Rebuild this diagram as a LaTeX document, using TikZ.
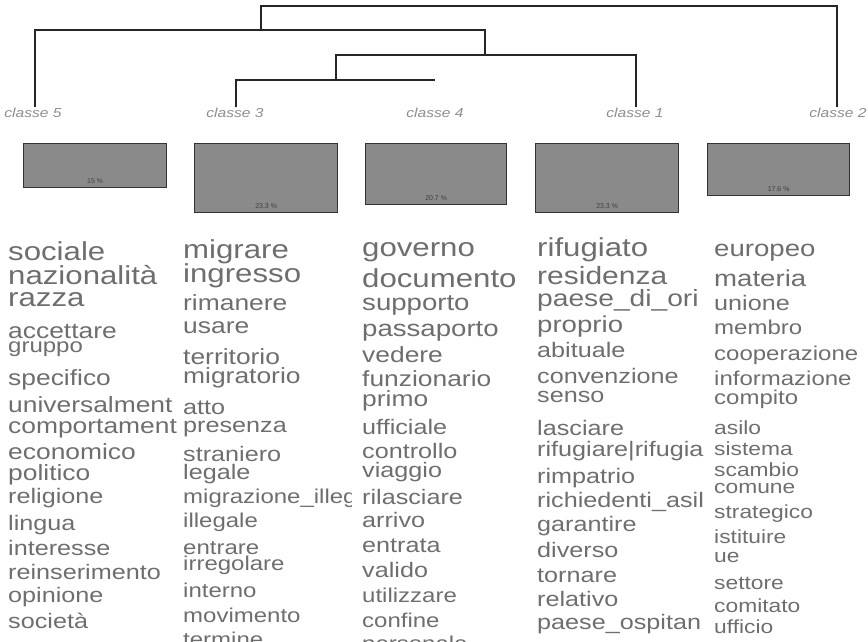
\documentclass[tikz,border=0pt]{standalone}
\usepackage{fontspec}
\setmainfont{Liberation Sans}
\newfontfamily\wordfont[FakeStretch=1.2]{Liberation Sans}
\definecolor{wordgray}{HTML}{6E6E6E}
\definecolor{labelgray}{HTML}{8E8E8E}
\definecolor{barfill}{HTML}{8A8A8A}
\tikzset{
  word/.style={anchor=base west, inner sep=0pt, text=wordgray},
  classlabel/.style={anchor=base, inner sep=0pt, text=labelgray, font=\wordfont\itshape\fontsize{13}{13}\selectfont},
  bar/.style={draw=black!80, fill=barfill, line width=1.3pt, anchor=north west, inner sep=0pt},
  pct/.style={anchor=base, inner sep=0pt, text=black!75, font=\fontsize{7}{7}\selectfont},
  tree/.style={draw=black!85, line width=1.3pt}
}

\begin{document}
\begin{tikzpicture}[x=1pt,y=-1pt]
\useasboundingbox (0,0) rectangle (868,641);

\coordinate (n5) at (35,107);
\coordinate (n3) at (236,107);
\coordinate (n4) at (435,80);
\coordinate (n1) at (636,107);
\coordinate (n2) at (837,107);
\coordinate (m34) at (336,80);
\coordinate (m341) at (485,55);
\coordinate (m5341) at (261,30);
\coordinate (root) at (549,6);

\draw[tree] (n3) |- (n4);
\draw[tree] (m34) |- (n1 |- m341) -- (n1);
\draw[tree] (m341) |- (n5 |- m5341) -- (n5);
\draw[tree] (m5341) |- (n2 |- root) -- (n2);

\node[classlabel] (k5) at (33,117) {classe 5};
\node[classlabel] (k3) at (235,117) {classe 3};
\node[classlabel] (k4) at (435,117) {classe 4};
\node[classlabel] (k1) at (635,117) {classe 1};
\node[classlabel] (k2) at (838,117) {classe 2};

\node[bar, minimum width=143, minimum height=44] (b5) at (23,143) {};
\node[bar, minimum width=143, minimum height=69] (b3) at (194,143) {};
\node[bar, minimum width=141, minimum height=61] (b4) at (365,143) {};
\node[bar, minimum width=143, minimum height=69] (b1) at (535,143) {};
\node[bar, minimum width=142, minimum height=52] (b2) at (707,143) {};
\path (b5.south) ++(0,-5) node[pct] {15 \%};
\path (b3.south) ++(0,-5) node[pct] {23.3 \%};
\path (b4.south) ++(0,-5) node[pct] {20.7 \%};
\path (b1.south) ++(0,-5) node[pct] {23.3 \%};
\path (b2.south) ++(0,-5) node[pct] {17.6 \%};

\begin{scope}
\clip (0,220) rectangle (178,641);
\foreach \y/\s/\w [count=\i] in {260/26/sociale, 284/26/nazionalità, 306/26/razza,
  338/22/accettare, 352/20/gruppo, 385/22/specifico, 412/22/universalment,
  433/22/comportament, 459/22/economico, 480/22/politico, 503/21/religione,
  530/21/lingua, 555/21/interesse, 579/21/reinserimento, 602/21/opinione, 628/21/società}
  \node[word, font=\wordfont\fontsize{\s}{\s}\selectfont] (c5w\i) at (8,\y) {\w};
\end{scope}

\begin{scope}
\clip (180,220) rectangle (351,641);
\foreach \y/\s/\w [count=\i] in {258/26/migrare, 282/26/ingresso, 310/22/rimanere,
  333/22/usare, 364/22/territorio, 383/22/migratorio, 414/21/atto, 432/21/presenza,
  461/21/straniero, 479/21/legale, 503/20/migrazione\_illeg, 527/20/illegale,
  554/20/entrare, 570/20/irregolare, 597/20/interno, 622/20/movimento, 646/20/termine}
  \node[word, font=\wordfont\fontsize{\s}{\s}\selectfont] (c3w\i) at (183,\y) {\w};
\end{scope}

\begin{scope}
\clip (355,220) rectangle (534,641);
\foreach \y/\s/\w [count=\i] in {256/26/governo, 287/26/documento, 310/23/supporto,
  336/23/passaporto, 362/22/vedere, 386/22/funzionario, 406/22/primo,
  434/21/ufficiale, 458/21/controllo, 477/21/viaggio, 504/21/rilasciare,
  527/21/arrivo, 552/21/entrata, 577/21/valido, 602/20/utilizzare,
  627/20/confine, 650/20/personale}
  \node[word, font=\wordfont\fontsize{\s}{\s}\selectfont] (c4w\i) at (362,\y) {\w};
\end{scope}

\begin{scope}
\clip (534,220) rectangle (707,641);
\foreach \y/\s/\w [count=\i] in {256/26/rifugiato, 284/25/residenza, 306/23.5/paese\_di\_ori,
  332/23/proprio, 357/21/abituale, 383/21/convenzione, 402/21/senso,
  435/21/lasciare, 456/21/rifugiare|rifugia, 483/21/rimpatrio,
  507/21/richiedenti\_asil, 531/21/garantire, 557/21/diverso, 582/21/tornare,
  606/21/relativo, 629/21/paese\_ospitan}
  \node[word, font=\wordfont\fontsize{\s}{\s}\selectfont] (c1w\i) at (537,\y) {\w};
\end{scope}

\begin{scope}
\clip (709,220) rectangle (868,641);
\foreach \y/\s/\w [count=\i] in {256/23/europeo, 286/23/materia, 310/21/unione,
  334/20/membro, 360/20/cooperazione, 385/20/informazione, 404/20/compito,
  434/19/asilo, 455/19/sistema, 476/19/scambio, 493/19/comune,
  518/19/strategico, 543/19/istituire, 562/19/ue, 589/19/settore,
  612/19/comitato, 633/19/ufficio}
  \node[word, font=\wordfont\fontsize{\s}{\s}\selectfont] (c2w\i) at (714,\y) {\w};
\end{scope}
\end{tikzpicture}
\end{document}
